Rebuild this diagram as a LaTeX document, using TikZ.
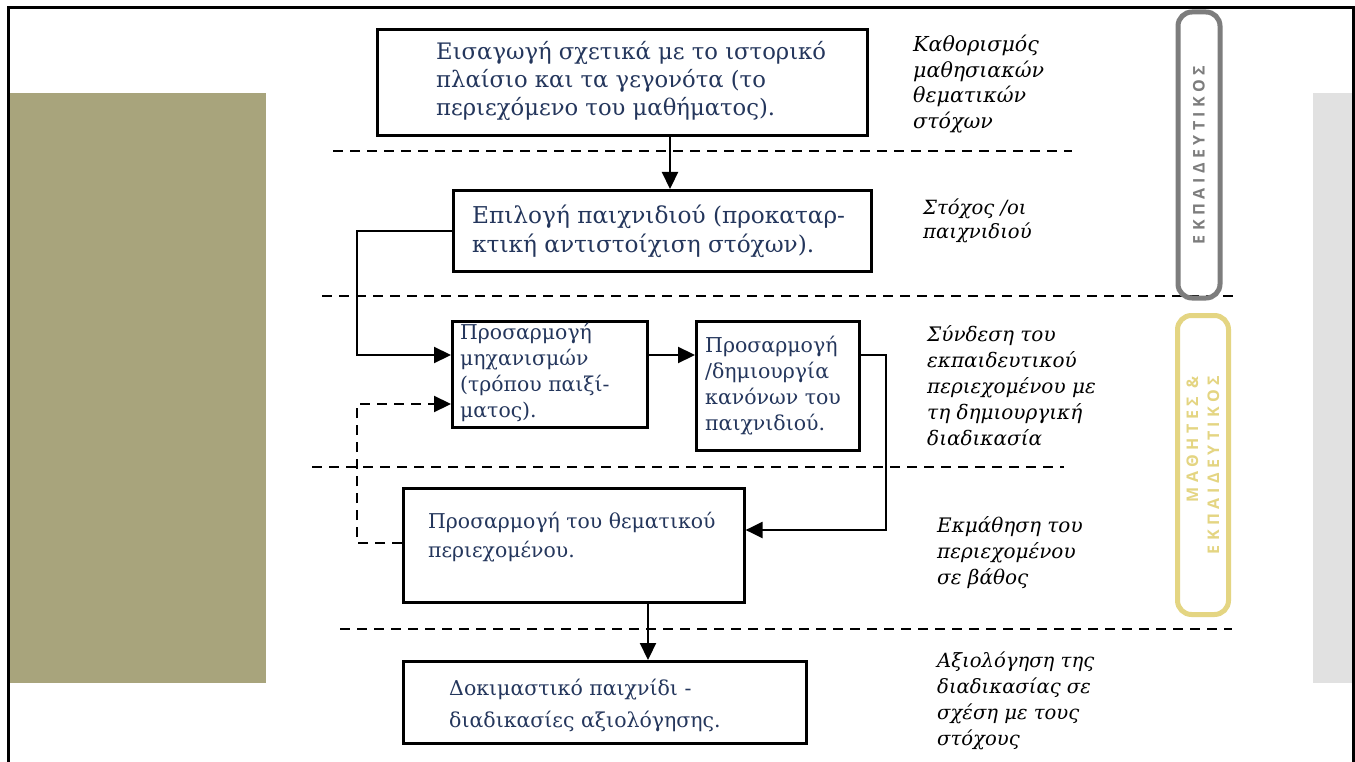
\documentclass[tikz,border=0pt]{standalone}
\usepackage{fontspec}
\setmainfont{DejaVu Serif}
\newfontfamily\labelfont[LetterSpace=28]{Open Sans}
\usetikzlibrary{arrows.meta}
\definecolor{olivebg}{RGB}{168,164,124}
\definecolor{lightbg}{RGB}{225,225,225}
\definecolor{navytext}{RGB}{36,54,92}
\definecolor{framegray}{RGB}{125,125,125}
\definecolor{goldframe}{RGB}{228,213,130}
\begin{document}
\begin{tikzpicture}[x=1pt,y=-1pt,
  box/.style={draw=black,line width=2.6pt,inner sep=0pt,anchor=north west},
  boxtext/.style={anchor=north west,inner sep=0pt,align=left,text=navytext,font=\fontsize{21}{28}\selectfont},
  side/.style={anchor=north west,inner sep=0pt,align=left,font=\itshape\fontsize{20}{26}\selectfont},
  sepline/.style={line width=2pt,dash pattern=on 10pt off 7pt},
  conn/.style={line width=2.2pt,-{Triangle[length=17pt,width=16pt]}},
  fb/.style={conn,dash pattern=on 10pt off 7pt},
  tag/.style={rotate=90,line width=5pt,rounded corners=14pt,inner sep=0pt,font=\labelfont\bfseries\fontsize{16}{21}\selectfont},
]
\useasboundingbox (0,0) rectangle (1355,762);
\clip (0,0) rectangle (1355,762);
% background
\fill[white] (0,0) rectangle (1355,762);
\fill[olivebg] (10,93) rectangle (266,683);
\fill[lightbg] (1313,93) rectangle (1352,683);
\draw[line width=3pt] (8,800) -- (8,8) -- (1353,8) -- (1353,800);

% separators
\draw[sepline] (333,151) -- (1072,151);
\draw[sepline] (322,296) -- (1238,296);
\draw[sepline] (312,467) -- (1064,467);
\draw[sepline] (340,629) -- (1232,629);

% boxes
\node[box,minimum width=490pt,minimum height=106pt] (b1) at (376,28) {};
\node[box,minimum width=418pt,minimum height=81pt] (b2) at (452,189) {};
\node[box,minimum width=195pt,minimum height=106pt] (b3) at (451,320) {};
\node[box,minimum width=163pt,minimum height=129pt] (b4) at (695,320) {};
\node[box,minimum width=341pt,minimum height=114pt] (b5) at (402,487) {};
\node[box,minimum width=403pt,minimum height=82pt] (b6) at (402,660) {};

% box texts
\node[boxtext,font=\fontsize{22.7}{28}\selectfont] (t1) at (436,41) {Εισαγωγή σχετικά με το ιστορικό\\πλαίσιο και τα γεγονότα (το\\περιεχόμενο του μαθήματος).};
\node[boxtext,font=\fontsize{23.2}{29}\selectfont] (t2) at (472,205) {Επιλογή παιχνιδιού (προκαταρ-\\κτική αντιστοίχιση στόχων).};
\node[boxtext,font=\fontsize{20.4}{26}\selectfont] (t3) at (460,323) {Προσαρμογή\\μηχανισμών\\(τρόπου παιξί-\\ματος).};
\node[boxtext,font=\fontsize{20.5}{26}\selectfont] (t4) at (705,336) {Προσαρμογή\\/δημιουργία\\κανόνων του\\παιχνιδιού.};
\node[boxtext,font=\fontsize{20.4}{29}\selectfont] (t5) at (428,512) {Προσαρμογή του θεματικού\\περιεχομένου.};
\node[boxtext,font=\fontsize{20.5}{32}\selectfont] (t6) at (449,679) {Δοκιμαστικό παιχνίδι -\\διαδικασίες αξιολόγησης.};

% side labels
\node[side,font=\itshape\fontsize{20.6}{25.5}\selectfont] (s1) at (913,35) {Καθορισμός\\μαθησιακών\\θεματικών\\στόχων};
\node[side,font=\itshape\fontsize{19.6}{24}\selectfont] (s2) at (923,199) {Στόχος /οι\\παιχνιδιού};
\node[side] (s3) at (927,325) {Σύνδεση του\\εκπαιδευτικού\\περιεχομένου με\\τη δημιουργική\\διαδικασία};
\node[side] (s4) at (937,516) {Εκμάθηση του\\περιεχομένου\\σε βάθος};
\node[side,font=\itshape\fontsize{19.6}{26}\selectfont] (s5) at (937,652) {Αξιολόγηση της\\διαδικασίας σε\\σχέση με τους\\στόχους};

% role tags
\node[tag,draw=framegray,text=framegray,minimum width=286pt,minimum height=42pt] (g1) at (1199,155) {ΕΚΠΑΙΔΕΥΤΙΚΟΣ};
\node[tag,draw=goldframe,text=goldframe,minimum width=299pt,minimum height=51pt,align=right] (g2) at (1203,465) {ΜΑΘΗΤΕΣ \&\\ΕΚΠΑΙΔΕΥΤΙΚΟΣ};

% helper coordinates
\coordinate (xa) at (670,0);
\coordinate (xb) at (648,0);
\coordinate (j1) at (357,355);
\coordinate (j2) at (886,530);
\coordinate (j3) at (357,543);
\coordinate (j4) at (357,404);

% connectors
\draw[conn] (b1.south -| xa) -- (b2.north -| xa);
\draw[conn] (b2.west) -| (j1) -- (b3.west |- j1);
\draw[conn] (b3.east |- j1) -- (b4.west |- j1);
\draw[conn] (b4.east |- j1) -| (j2) -- (b5.east |- j2);
\draw[fb] (b5.west |- j3) -- (j3) -- (j4) -- (b3.west |- j4);
\draw[conn] (b5.south -| xb) -- (b6.north -| xb);
\end{tikzpicture}
\end{document}
